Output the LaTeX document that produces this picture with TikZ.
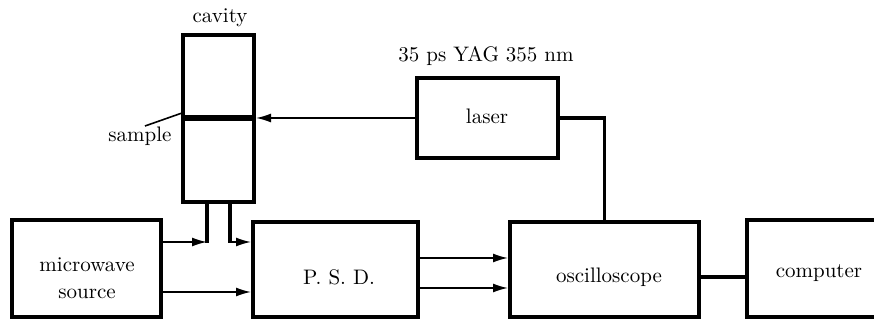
\documentclass[tikz,border=0pt]{standalone}
\usetikzlibrary{arrows.meta}
\begin{document}
\begin{tikzpicture}[x=0.5pt,y=-0.5pt,
  box/.style={draw,line width=2pt,inner sep=0pt},
  lbl/.style={font=\fontsize{10.5}{13.5}\selectfont,inner sep=0pt,align=center},
  arr/.style={line width=0.8pt,-{Latex[length=7.5pt,width=4.5pt]}},
  thickline/.style={line width=1.8pt},
  thinline/.style={line width=0.8pt}]
\useasboundingbox (0,0) rectangle (874,320);
% boxes
\node[box,minimum width=35.5pt,minimum height=83.5pt] (cavity) at (218.5,118.5) {};
\node[box,minimum width=74.5pt,minimum height=48.5pt] (micro) at (86.5,268.5) {};
\node[box,minimum width=82.5pt,minimum height=47.5pt] (psd) at (335.5,269.5) {};
\node[box,minimum width=94.5pt,minimum height=47.5pt] (osc) at (604.5,269.5) {};
\node[box,minimum width=70pt,minimum height=48.5pt] (comp) at (817,268.5) {};
\node[box,minimum width=70.5pt,minimum height=40pt] (laser) at (487.5,118) {};
% texts
\node[lbl] (cavtxt) at (220,18) {cavity};
\node[lbl] (yagtxt) at (486,56) {35 ps YAG 355 nm};
\node[lbl] (lasertxt) at (487,116) {laser};
\node[lbl] (sampletxt) at (140,136) {sample};
\node[lbl] (microtxt) at (87,278) {microwave\\source};
\node[lbl] (psdtxt) at (339,277) {P. S. D.};
\node[lbl] (osctxt) at (609,277) {oscilloscope};
\node[lbl] (comptxt) at (819,273) {computer};
% sample layer
\draw[line width=3pt] (cavity.west) -- (cavity.east);
\coordinate (lead) at (182,113);
\coordinate (leadstart) at (145,126);
\draw[thinline] (leadstart) -- (lead);
% laser to cavity
\draw[arr] (laser.west) -- (laser.west -| cavity.east);
% cavity legs
\coordinate (leg1) at (207,242);
\coordinate (leg2) at (230,242);
\draw[thickline] (cavity.south -| leg1) -- ([yshift=-0.4pt]leg1);
\draw[thickline] (cavity.south -| leg2) -- ([yshift=-0.4pt]leg2);
\draw[arr] (micro.east |- leg1) -- (leg1);
\draw[arr] (leg2) -- (psd.west |- leg2);
% microwave to psd
\coordinate (mp) at (0,292);
\draw[arr] (micro.east |- mp) -- (psd.west |- mp);
% psd to oscilloscope
\coordinate (po1) at (0,258);
\coordinate (po2) at (0,288);
\draw[arr] (psd.east |- po1) -- (osc.west |- po1);
\draw[arr] (psd.east |- po2) -- (osc.west |- po2);
% laser to oscilloscope
\draw[thickline] (laser.east) -| (osc.north);
% oscilloscope to computer
\coordinate (oc) at (0,277);
\draw[thickline] (osc.east |- oc) -- (comp.west |- oc);
\end{tikzpicture}
\end{document}
